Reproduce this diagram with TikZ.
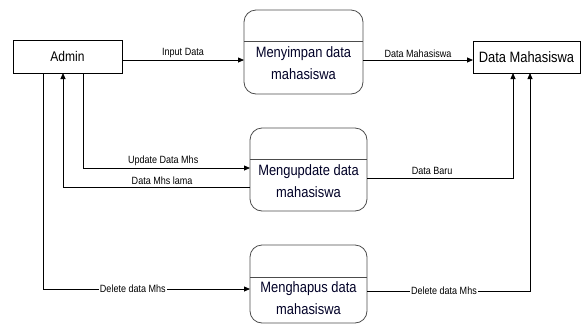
\documentclass[tikz,border=0pt]{standalone}
\usepackage{fontspec}
\setmainfont{Liberation Sans}[FakeStretch=0.86]
\usetikzlibrary{arrows.meta}
\tikzset{
  ent/.style={draw=black, line width=0.8pt, inner sep=0pt, outer sep=0pt, font=\fontsize{14}{17}\selectfont},
  proc/.style={draw=black!70, line width=0.8pt, rounded corners=12pt, inner sep=0pt, outer sep=0pt},
  ptext/.style={align=center, inner sep=0pt, font=\fontsize{15}{22}\selectfont, text=black!85!blue},
  flow/.style={line width=0.8pt, -{Triangle[length=6pt,width=5pt]}},
  lbl/.style={font=\fontsize{10.5}{12}\selectfont, inner sep=1pt},
  dline/.style={draw=black!70, line width=0.8pt}
}
\begin{document}
\begin{tikzpicture}[x=1pt,y=-1pt]
\useasboundingbox (0,0) rectangle (587,325);
% entities
\node[ent, minimum width=109pt, minimum height=33pt] (admin) at (67.5,56.5) {Admin};
\node[ent, minimum width=107pt, minimum height=32pt, font=\fontsize{15}{18}\selectfont] (dm) at (526.5,57) {Data Mahasiswa};
% processes
\node[proc, minimum width=119pt, minimum height=84pt] (p1) at (303.5,52) {};
\node[proc, minimum width=117pt, minimum height=83pt] (p2) at (308.5,169.5) {};
\node[proc, minimum width=117pt, minimum height=78pt] (p3) at (308.5,284) {};
\draw[dline] (p1.west |- 0,41) -- (p1.east |- 0,41);
\draw[dline] (p2.west |- 0,159) -- (p2.east |- 0,159);
\draw[dline] (p3.west |- 0,277) -- (p3.east |- 0,277);
\node[ptext] (p1t) at (303.5,63.5) {Menyimpan data\\mahasiswa};
\node[ptext] (p2t) at (308.5,181) {Mengupdate data\\mahasiswa};
\node[ptext] (p3t) at (308.5,298.5) {Menghapus data\\mahasiswa};
% flows
\draw[flow] (admin.east |- 0,60) -- (p1.west |- 0,60) node[lbl, midway, above=1pt] (l1) {Input Data};
\draw[flow] (p1.east |- 0,60) -- (dm.west |- 0,60) node[lbl, midway, above=1pt] (l2) {Data Mahasiswa};
\draw[flow] (admin.south -| 83,0) |- (p2.west |- 0,168) node[lbl, pos=0.74, above=1pt] (l3) {Update Data Mhs};
\draw[flow] (p2.west |- 0,187) -| (admin.south -| 63,0) node[lbl, pos=0.235, above=1pt] (l4) {Data Mhs lama};
\draw[flow] (admin.south -| 43,0) |- (p3.west |- 0,289) node[lbl, pos=0.717, fill=white] (l5) {Delete data Mhs};
\draw[flow] (p2.east |- 0,178) -| (dm.south -| 513,0) node[lbl, pos=0.223, above=2pt] (l6) {Data Baru};
\draw[flow] (p3.east |- 0,291) -| (dm.south -| 530,0) node[lbl, pos=0.236, fill=white] (l7) {Delete data Mhs};
\end{tikzpicture}
\end{document}
